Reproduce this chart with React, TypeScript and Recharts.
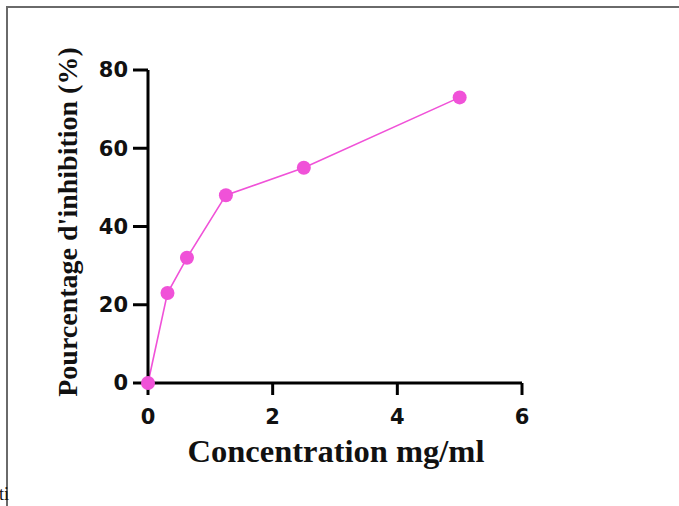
import React from 'react';
import { LineChart, Line, XAxis, YAxis, Label } from 'recharts';

const concentrations = [0, 0.3125, 0.625, 1.25, 2.5, 5];
const inhibition = [0, 23, 32, 48, 55, 73];
const xTicks = [0, 2, 4, 6];
const yTicks = [0, 20, 40, 60, 80];

const data = concentrations.map((x, i) => ({ x, y: inhibition[i] }));

const PINK = '#F052D8';
const tickStyle = { fill: '#111', fontSize: 21, fontWeight: 700, fontFamily: 'DejaVu Sans, sans-serif' };

export default function App() {
  return (
    <div style={{ position: 'fixed', left: 0, top: 0, width: 679, height: 506, background: '#fff', overflow: 'hidden' }}>
      <div
        style={{
          position: 'absolute',
          left: 6,
          top: 6,
          width: 680,
          height: 510,
          borderTop: '2px solid #6a6a6a',
          borderLeft: '2px solid #6a6a6a',
        }}
      />
      <span
        style={{
          position: 'absolute',
          left: -1,
          top: 482,
          fontFamily: 'Liberation Serif, Times New Roman, serif',
          fontSize: 18,
          lineHeight: '24px',
          color: '#111',
        }}
      >
        ti
      </span>
      <LineChart width={679} height={506} data={data} margin={{ top: 70, right: 157, bottom: 0, left: 0 }}>
        <XAxis
          type="number"
          dataKey="x"
          domain={[0, 6]}
          ticks={xTicks}
          height={123}
          axisLine={{ stroke: '#000', strokeWidth: 3 }}
          tickLine={{ stroke: '#000', strokeWidth: 3 }}
          tickSize={12}
          tickMargin={14}
          tick={tickStyle}
        >
          <Label
            content={() => (
              <text
                x={336}
                y={462}
                textAnchor="middle"
                fontFamily="Liberation Serif, Times New Roman, serif"
                fontWeight={700}
                fontSize={32.5}
                fill="#111"
              >
                Concentration mg/ml
              </text>
            )}
          />
        </XAxis>
        <YAxis
          type="number"
          domain={[0, 80]}
          ticks={yTicks}
          width={148}
          axisLine={{ stroke: '#000', strokeWidth: 3 }}
          tickLine={{ stroke: '#000', strokeWidth: 3 }}
          tickSize={15}
          tickMargin={5}
          tick={tickStyle}
        >
          <Label
            content={() => (
              <text
                x={67}
                y={222}
                transform="rotate(-90, 67, 222)"
                textAnchor="middle"
                dominantBaseline="central"
                fontFamily="Liberation Serif, Times New Roman, serif"
                fontWeight={700}
                fontSize={28}
                fill="#111"
              >
                Pourcentage d'inhibition (%)
              </text>
            )}
          />
        </YAxis>
        <Line
          type="linear"
          dataKey="y"
          stroke={PINK}
          strokeWidth={1.6}
          dot={{ r: 7, fill: PINK, stroke: PINK, strokeWidth: 0 }}
          isAnimationActive={false}
        />
      </LineChart>
    </div>
  );
}
